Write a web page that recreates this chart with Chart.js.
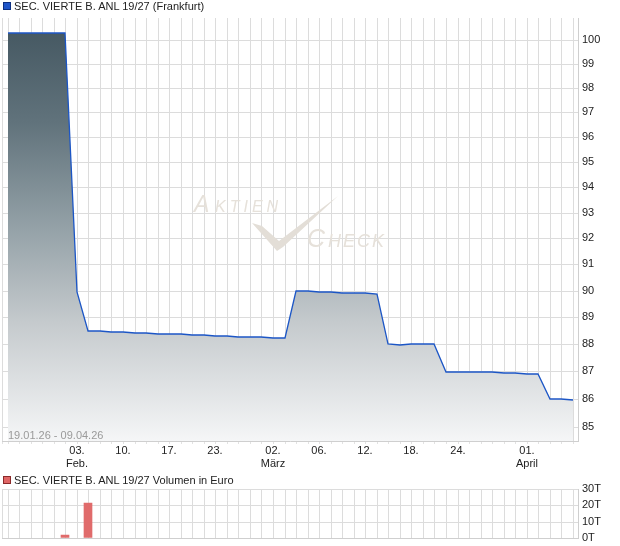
<!DOCTYPE html>
<html><head><meta charset="utf-8">
<script src="https://cdn.jsdelivr.net/npm/chart.js@4.4.1/dist/chart.umd.min.js"></script>
<style>
html,body{margin:0;padding:0;background:#fff;}
#wrap{position:relative;width:620px;height:546px;overflow:hidden;font-family:"Liberation Sans",Arial,sans-serif;}
canvas{position:absolute;left:0;}
.lg{position:absolute;left:14px;font-size:11px;color:#222;line-height:12px;white-space:nowrap;}
.bx{position:absolute;left:3px;width:6px;height:6px;}
</style></head><body>
<div id="wrap">
<canvas id="c1" width="620" height="470" style="top:0;width:620px;height:470px"></canvas>
<canvas id="c2" width="620" height="79" style="top:470px;width:620px;height:79px"></canvas>
<div class="bx" style="top:2px;background:#1f55c8;border:1px solid #0d2f80"></div>
<div class="lg" style="top:0px" id="t1"></div>
<div class="lg" style="top:429px;left:8px;color:#9a9a9a" id="t2"></div>
<div class="bx" style="top:476px;background:#e06666;border:1px solid #8a2a2a"></div>
<div class="lg" style="top:474px" id="t3"></div>
</div>
<script>
// ---- data ----
const title = "SEC. VIERTE B. ANL 19/27 (Frankfurt)";
const volumeTitle = "SEC. VIERTE B. ANL 19/27 Volumen in Euro";
const rangeLabel = "19.01.26 - 09.04.26";
const prices = [
  100.31, 100.31, 100.31, 100.28, 100.28, 100.28, 89.96, 88.49, 88.49, 88.46,
  88.46, 88.42, 88.42, 88.38, 88.38, 88.38, 88.34, 88.34, 88.31, 88.31,
  88.27, 88.27, 88.27, 88.23, 88.23, 89.99, 89.99, 89.94, 89.94, 89.90,
  89.90, 89.90, 89.87, 88.01, 87.96, 88.00, 88.00, 88.00, 86.97, 86.97,
  86.97, 86.97, 86.97, 86.93, 86.93, 86.90, 86.90, 86.00, 86.00, 85.96
];
const volumes = [
  0, 0, 0, 0, 0, 2000, 0, 21500, 0, 0,
  0, 0, 0, 0, 0, 0, 0, 0, 0, 0,
  0, 0, 0, 0, 0, 0, 0, 0, 0, 0,
  0, 0, 0, 0, 0, 0, 0, 0, 0, 0,
  0, 0, 0, 0, 0, 0, 0, 0, 0, 0
];
const tickIndex = [6, 10, 14, 18, 23, 27, 31, 35, 39, 45];
const tickLabels = [["03.","Feb."],["10."],["17."],["23."],["02.","März"],["06."],["12."],["18."],["24."],["01.","April"]];
const priceTicks = [85, 86, 87, 88, 89, 90, 91, 92, 93, 94, 95, 96, 97, 98, 99, 100];
const volumeTicks = [0, 10000, 20000, 30000];

document.getElementById('t1').textContent = title;
document.getElementById('t2').textContent = rangeLabel;
document.getElementById('t3').textContent = volumeTitle;

const X_MIN = -0.49, X_MAX = 49.44;
const FONT = {family: '"Liberation Sans", Arial, sans-serif', size: 11};
const GRID = '#dcdcdc';
const xTicks = s => { s.ticks = [{value: X_MIN}].concat(prices.map((p, i) => ({value: i}))); };
const xLabel = v => { const j = tickIndex.indexOf(v); return j >= 0 ? tickLabels[j] : ''; };

function grad(ctx) {
  const ch = ctx.chart, ca = ch.chartArea;
  if (!ca) return 'rgba(0,0,0,0)';
  const g = ch.ctx.createLinearGradient(0, ca.top, 0, ca.bottom);
  g.addColorStop(0, '#42555f');
  g.addColorStop(0.25, '#61737c');
  g.addColorStop(0.5, '#95a2a8');
  g.addColorStop(0.72, '#c5cacd');
  g.addColorStop(1, '#f5f6f7');
  return g;
}

const watermark = {
  id: 'wm',
  beforeDatasetsDraw(chart) {
    const c = chart.ctx;
    c.save();
    c.fillStyle = '#e6e1da';
    c.textBaseline = 'alphabetic';
    c.font = 'italic 23px "Liberation Sans", Arial, sans-serif';
    c.fillText('A', 194, 212);
    c.font = 'italic 16px "Liberation Sans", Arial, sans-serif';
    c.letterSpacing = '4px';
    c.fillText('KTIEN', 215, 212);
    c.letterSpacing = '0px';
    c.font = 'italic 25px "Liberation Sans", Arial, sans-serif';
    c.fillText('C', 307, 247);
    c.font = 'italic 18px "Liberation Sans", Arial, sans-serif';
    c.letterSpacing = '2px';
    c.fillText('HECK', 328, 247);
    c.letterSpacing = '0px';
    c.beginPath();
    c.moveTo(252, 223); c.lineTo(262, 226); c.lineTo(279, 241);
    c.lineTo(338, 196); c.lineTo(283, 247); c.lineTo(277, 251);
    c.closePath();
    c.fillStyle = '#e3ded7';
    c.fill();
    c.restore();
  }
};

new Chart(document.getElementById('c1'), {
  type: 'line',
  data: {datasets: [{
    data: prices.map((v, i) => ({x: i, y: v})),
    borderColor: '#1c56c6', borderWidth: 1.3, pointRadius: 0, tension: 0,
    fill: 'start', backgroundColor: grad
  }]},
  options: {
    responsive: false, animation: false, devicePixelRatio: 1,
    layout: {padding: {top: 18, left: 2, right: 0, bottom: 0}},
    plugins: {legend: {display: false}, tooltip: {enabled: false}},
    scales: {
      x: {
        type: 'linear', min: X_MIN, max: X_MAX, alignToPixels: true,
        afterBuildTicks: xTicks,
        afterFit: s => { s.height = 29; },
        ticks: {callback: xLabel, autoSkip: false, maxRotation: 0, padding: 0, font: FONT, color: '#222'},
        grid: {color: GRID, tickLength: 3, tickColor: '#e2e2e2'},
        border: {color: '#cfcfcf'}
      },
      y: {
        type: 'logarithmic', position: 'right', min: 84.49, max: 100.93, alignToPixels: true,
        afterBuildTicks: s => { s.ticks = priceTicks.map(v => ({value: v})); },
        afterFit: s => { s.width = 42; },
        ticks: {callback: v => String(v), autoSkip: false, padding: 4, font: FONT, color: '#222'},
        grid: {color: GRID, drawTicks: false},
        border: {color: '#cfcfcf'}
      }
    }
  },
  plugins: [watermark]
});

new Chart(document.getElementById('c2'), {
  type: 'bar',
  data: {datasets: [{
    data: volumes.map((v, i) => ({x: i, y: v > 0 ? v : null})),
    backgroundColor: '#e06b6b', borderWidth: 0,
    barThickness: 8, skipNull: true
  }]},
  options: {
    responsive: false, animation: false, devicePixelRatio: 1,
    layout: {padding: {top: 19, left: 2, right: 0, bottom: 0}},
    plugins: {legend: {display: false}, tooltip: {enabled: false}},
    scales: {
      x: {
        type: 'linear', min: X_MIN, max: X_MAX, alignToPixels: true, offset: false,
        afterBuildTicks: xTicks,
        afterFit: s => { s.height = 6; },
        ticks: {display: false},
        grid: {color: GRID, drawTicks: false, offset: false},
        border: {color: '#cfcfcf'}
      },
      y: {
        position: 'right', min: 0, max: 30000, alignToPixels: true,
        afterBuildTicks: s => { s.ticks = volumeTicks.map(v => ({value: v})); },
        afterFit: s => { s.width = 42; },
        ticks: {callback: v => (v / 1000) + 'T', autoSkip: false, padding: 4, font: FONT, color: '#222'},
        grid: {color: GRID, drawTicks: false},
        border: {color: '#cfcfcf'}
      }
    }
  }
});
</script>
</body></html>
